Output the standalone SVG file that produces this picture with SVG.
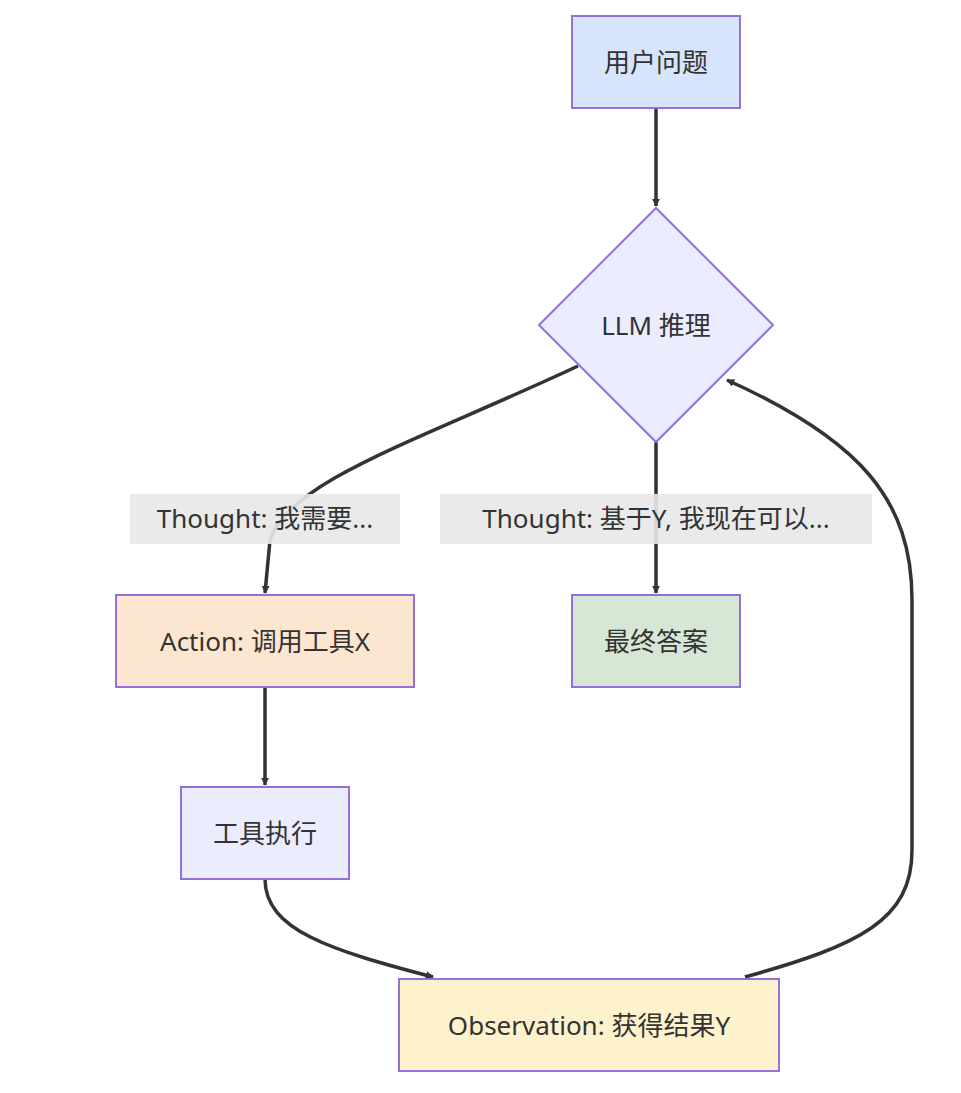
<svg xmlns="http://www.w3.org/2000/svg" width="961" height="1093" viewBox="0 0 961 1093">
<defs>
<marker id="ah" viewBox="0 0 10 10" refX="9" refY="5" markerWidth="8" markerHeight="8" orient="auto-start-reverse" markerUnits="userSpaceOnUse">
<path d="M0,0 L10,5 L0,10 z" fill="#333"/>
</marker>
<style>
.n{stroke:#9370DB;stroke-width:2}
.t{font-family:"Noto Sans","Noto Sans CJK SC",sans-serif;font-size:26px;fill:#333;text-anchor:middle;dominant-baseline:central}
.e{fill:none;stroke:#333;stroke-width:3.5}
.lb{fill:#e8e8e8;opacity:0.9}
</style>
</defs>
<rect width="961" height="1093" fill="#fff"/>
<g id="connectors">
<path class="e" d="M656,108 L656,206" marker-end="url(#ah)"/>
<path class="e" d="M578,366 C420,440 290,480 270,540 L265,593" marker-end="url(#ah)"/>
<path class="e" d="M656,442 L656,593" marker-end="url(#ah)"/>
<path class="e" d="M265,687 L265,785" marker-end="url(#ah)"/>
<path class="e" d="M265,879 C265,930 330,950 433,977" marker-end="url(#ah)"/>
<path class="e" d="M745,977 C860,945 912,920 912,850 L912,600 C912,500 860,440 727,380" marker-end="url(#ah)"/>
<rect class="lb" x="130" y="494" width="270" height="50"/>
<text class="t" x="265" y="518">Thought: 我需要...</text>
<rect class="lb" x="440" y="494" width="432" height="50"/>
<text class="t" x="656" y="518">Thought: 基于Y, 我现在可以...</text>
</g>
<g id="q"><rect class="n" x="572" y="16" width="168" height="92" fill="#d6e4fc"/><text class="t" x="656" y="62">用户问题</text></g>
<g id="llm"><polygon class="n" points="656,208 773,325 656,442 539,325" fill="#ECECFF"/><text class="t" x="656" y="325">LLM 推理</text></g>
<g id="action"><rect class="n" x="116" y="595" width="298" height="92" fill="#fce6cf"/><text class="t" x="265" y="641">Action: 调用工具X</text></g>
<g id="final"><rect class="n" x="572" y="595" width="168" height="92" fill="#d7e7d5"/><text class="t" x="656" y="641">最终答案</text></g>
<g id="exec"><rect class="n" x="181" y="787" width="168" height="92" fill="#ECECFF"/><text class="t" x="265" y="833">工具执行</text></g>
<g id="obs"><rect class="n" x="399" y="979" width="380" height="92" fill="#fdf2cc"/><text class="t" x="589" y="1025">Observation: 获得结果Y</text></g>
</svg>
